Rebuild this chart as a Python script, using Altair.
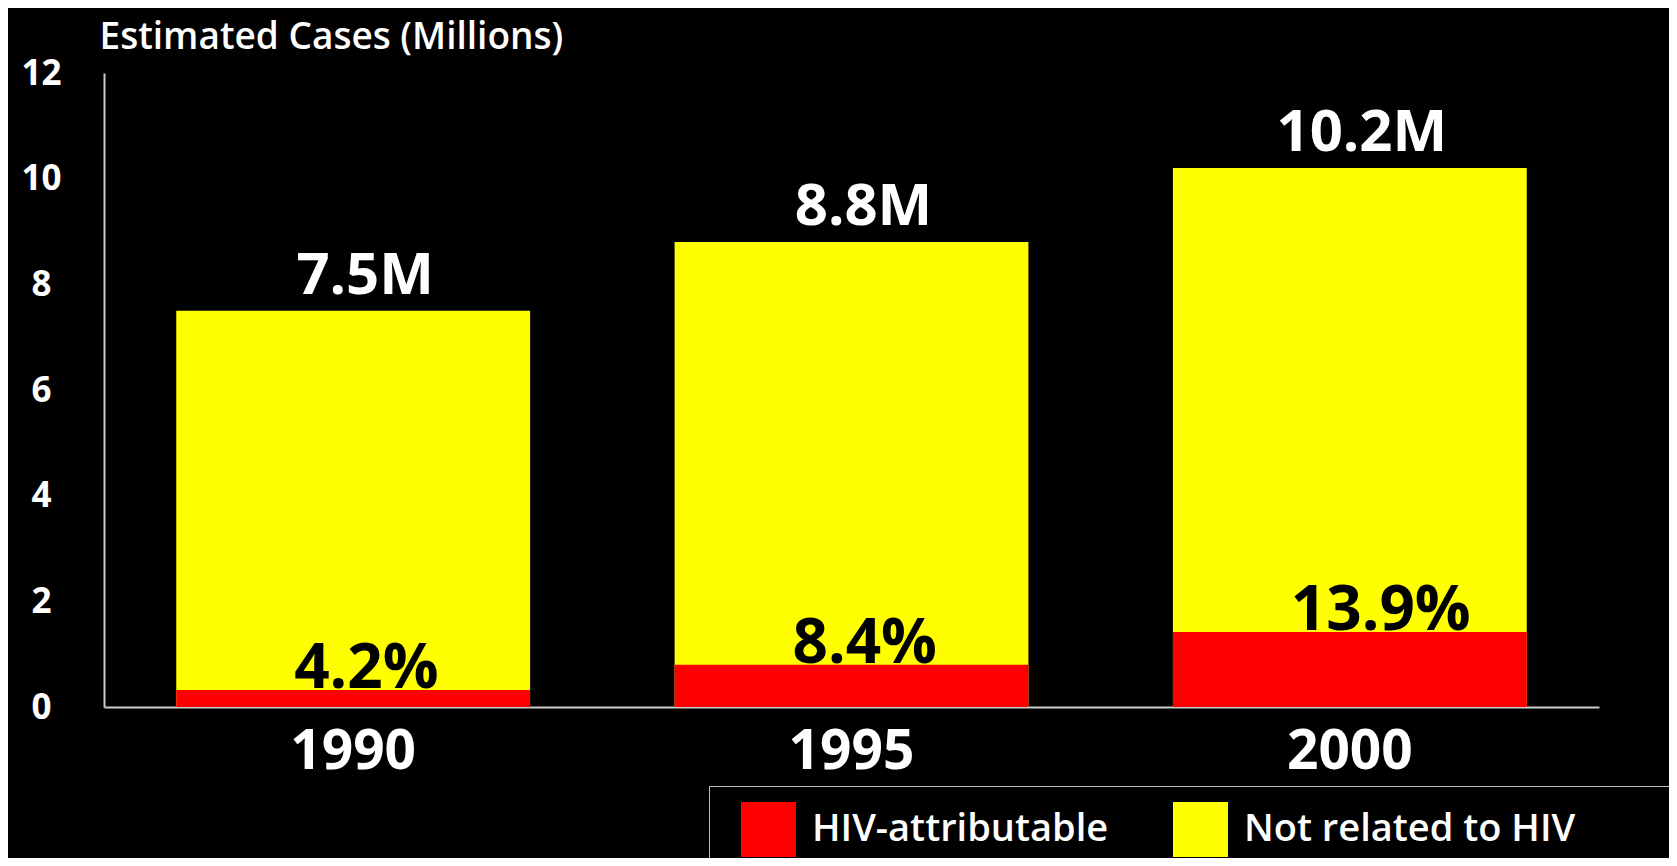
import altair as alt
import pandas as pd

# ---- data ----
years = ["1990", "1995", "2000"]
totals = [7.5, 8.8, 10.2]          # total estimated cases (millions)
hiv_cases = [0.32, 0.80, 1.42]     # HIV-attributable portion (millions)
total_labels = ["7.5M", "8.8M", "10.2M"]
pct_labels = ["4.2%", "8.4%", "13.9%"]
series_names = ["HIV-attributable", "Not related to HIV"]
series_colors = ["#ff0000", "#ffff00"]
y_ticks = [0, 2, 4, 6, 8, 10, 12]

FONT = "Open Sans"

df_total = pd.DataFrame({
    "year": years, "value": totals, "series": series_names[1],
    "label": total_labels,
})
df_hiv = pd.DataFrame({
    "year": years, "value": hiv_cases, "series": series_names[0],
    "label": pct_labels,
})

x_enc = alt.X(
    "year:N", sort=years, title=None,
    scale=alt.Scale(paddingInner=0.29, paddingOuter=0.145),
    axis=alt.Axis(
        labelAngle=0, labelFontSize=55, labelFontWeight="bold",
        labelColor="white", labelFont=FONT, labelPadding=61,
        labelBaseline="alphabetic", ticks=False,
        domainColor="#cccccc", domainWidth=2,
    ),
)
y_scale = alt.Scale(domain=[0, 12], nice=False, zero=True)
y_axis = alt.Axis(
    values=y_ticks, grid=False, ticks=False,
    labelFontSize=35, labelFontWeight="bold", labelColor="white",
    labelFont=FONT, labelAlign="center", labelBaseline="middle",
    labelPadding=63,
    domainColor="#cccccc", domainWidth=2,
    title="Estimated Cases (Millions)", titleAngle=0, titleAlign="left",
    titleBaseline="middle", titleX=-5, titleY=-36, titleFontSize=37,
    titleFontWeight=600, titleColor="white", titleFont=FONT,
)
color_scale = alt.Scale(domain=series_names, range=series_colors)
legend = alt.Legend(
    orient="none", legendX=605, legendY=713, direction="horizontal",
    title=" ", titleOrient="right", titlePadding=300,
    symbolType="square", symbolSize=3025, symbolStrokeWidth=0,
    symbolOffset=16, symbolOpacity=1,
    labelFontSize=38, labelColor="white", labelFont=FONT,
    labelFontWeight=600, labelOffset=16, columnPadding=48,
    labelLimit=600,
    padding=16, fillColor="black", strokeColor="#bbbbbb",
)

yellow = alt.Chart(df_total).mark_bar(strokeWidth=0).encode(
    x=x_enc,
    y=alt.Y("value:Q", scale=y_scale, axis=y_axis),
    color=alt.Color("series:N", scale=color_scale, legend=legend),
)
red = alt.Chart(df_hiv).mark_bar(strokeWidth=0).encode(
    x=x_enc,
    y=alt.Y("value:Q"),
    color=alt.Color("series:N", scale=color_scale, legend=legend),
)
total_text = alt.Chart(df_total).mark_text(
    baseline="alphabetic", dy=-17, dx=12, fontSize=58,
    fontWeight="bold", color="white", font=FONT,
).encode(x=x_enc, y=alt.Y("value:Q"), text="label:N")
pct_text = alt.Chart(df_hiv).mark_text(
    align="left", baseline="alphabetic", dx=-59, dy=-2, fontSize=62,
    fontWeight="bold", color="black", font=FONT,
).encode(x=x_enc, y=alt.Y("value:Q"), text="label:N")

chart = alt.layer(yellow, red, total_text, pct_text).properties(
    width=1495, height=634,
    padding={"left": 96, "top": 65, "right": 70, "bottom": 151},
    autosize=alt.AutoSizeParams(type="none"),
    background="black",
).configure_view(strokeWidth=0)

chart.save("out.html", embed_options={"renderer": "svg", "actions": False})
